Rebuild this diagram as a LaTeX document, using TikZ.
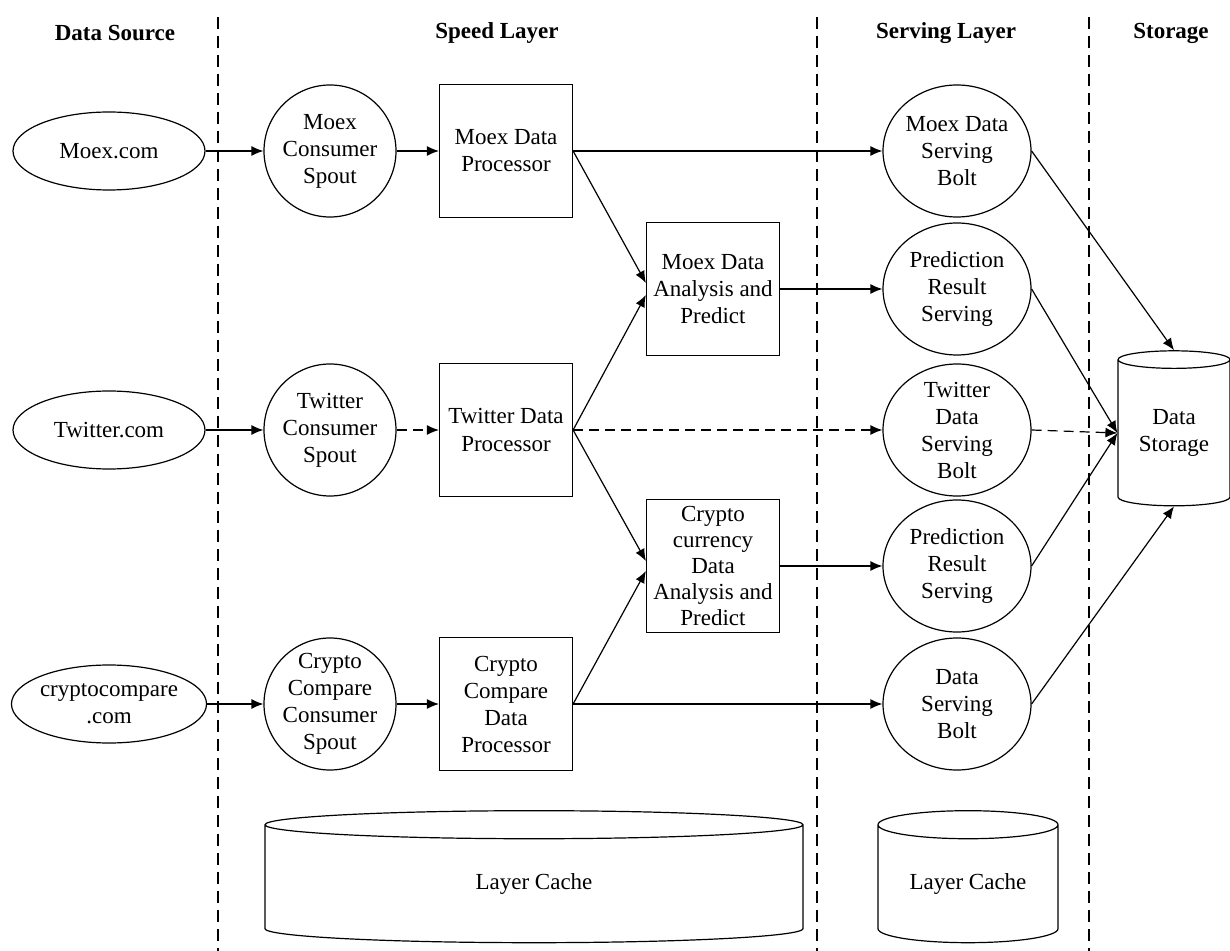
\documentclass[tikz,border=0pt]{standalone}
\usepackage{fontspec}
\setmainfont{Liberation Serif}
\usetikzlibrary{positioning}
\usetikzlibrary{arrows.meta}
\usetikzlibrary{shapes.geometric}

\tikzset{
  txt/.style={font=\fontsize{11.5}{13.5}\selectfont, align=center, inner sep=0pt},
  src/.style={txt, draw, ellipse, minimum width=96pt, minimum height=39pt},
  spout/.style={txt, draw, circle, minimum size=66pt, inner sep=-3pt},
  proc/.style={txt, draw, rectangle, minimum size=66.5pt},
  bolt/.style={txt, draw, ellipse, minimum width=74pt, minimum height=66pt, inner sep=-4pt},
  db/.style={txt, draw, cylinder, shape border rotate=90},
  layer/.style={font=\fontsize{11.5}{13.5}\selectfont\bfseries},
  flow/.style={-{Latex[length=6pt,width=5pt]}},
  sep/.style={dash pattern=on 6pt off 3.5pt},
  weak/.style={dash pattern=on 5pt off 3pt},
}

\begin{document}
\begin{tikzpicture}[x=0.5pt, y=-0.5pt, line width=0.6pt]
\useasboundingbox (0,0) rectangle (1230,951);

% layers
\node[layer] (hsrc) at (115,33) {Data Source};
\node[layer] (hspeed) at (497,33) {Speed Layer};
\node[layer] (hserve) at (946,33) {Serving Layer};
\node[layer] (hstore) at (1171,33) {Storage};
\draw[sep] (218,17) -- (218,951);
\draw[sep] (817,17) -- (817,951);
\draw[sep] (1089,17) -- (1089,951);

% sources and spouts
\node[src] (moex) at (109,151) {Moex.com};
\node[src] (twit) at (109,430) {Twitter.com};
\node[src] (cryp) at (109,704) {cryptocompare\\.com};
\node[spout] (moexspout) at (330,151) {Moex\\Consumer\\Spout};
\node[spout] (twitspout) at (330,430) {Twitter\\Consumer\\Spout};
\node[spout] (crypspout) at (330,704) {Crypto\\Compare\\Consumer\\Spout};

% processors
\node[proc] (moexproc) at (506,151) {Moex Data\\Processor};
\node[proc] (twitproc) at (506,430) {Twitter Data\\Processor};
\node[proc] (crypproc) at (506,704) {Crypto\\Compare\\Data\\Processor};
\node[proc] (moexan) at (713,289) {Moex Data\\Analysis and\\Predict};
\node[proc, font=\fontsize{11.5}{13}\selectfont] (crypan) at (713,566) {Crypto\\currency\\Data\\Analysis and\\Predict};

% serving
\node[bolt] (moexbolt) at (957,151) {Moex Data\\Serving\\Bolt};
\node[bolt] (moexpred) at (957,289) {Prediction\\Result\\Serving};
\node[bolt] (twitbolt) at (957,430) {Twitter\\Data\\Serving\\Bolt};
\node[bolt] (syppred) at (957,566) {Prediction\\Result\\Serving};
\node[bolt] (crypbolt) at (957,704) {Data\\Serving\\Bolt};

% storage
\node[db, minimum width=56pt, minimum height=77.5pt, aspect=0.25] (store) at (1174,433) {Data\\Storage};
\node[db, minimum width=269pt, minimum height=66pt, aspect=0.24] (cache) at (534,884) {Layer Cache};
\node[db, minimum width=90pt, minimum height=66pt, aspect=0.24] (servecache) at (968,884) {Layer Cache};

% flows
\draw[flow] (moex) -- (moexspout);
\draw[flow] (moexspout) -- (moexproc);
\draw[flow] (moexproc) -- (moexbolt);
\draw[flow] (moexproc.east) -- ([yshift=3pt]moexan.west);
\draw[flow] (twitproc.east) -- ([yshift=-3pt]moexan.west);
\draw[flow] (moexan) -- (moexpred);
\draw[flow] (twit) -- (twitspout);
\draw[flow, weak] (twitspout) -- (twitproc);
\draw[flow, weak] (twitproc) -- (twitbolt);
\draw[flow] (twitproc.east) -- ([yshift=2.5pt]crypan.west);
\draw[flow] (crypproc.east) -- ([yshift=-2.5pt]crypan.west);
\draw[flow] (crypan) -- (syppred);
\draw[flow] (cryp) -- (crypspout);
\draw[flow] (crypspout) -- (crypproc);
\draw[flow] (crypproc) -- (crypbolt);
\draw[flow] (moexbolt.east) -- (store.top);
\draw[flow] (moexpred.east) -- (store.west);
\draw[flow, weak] (twitbolt.east) -- (store.west);
\draw[flow] (syppred.east) -- (store.west);
\draw[flow] (crypbolt.east) -- (store.bottom);
\end{tikzpicture}
\end{document}
